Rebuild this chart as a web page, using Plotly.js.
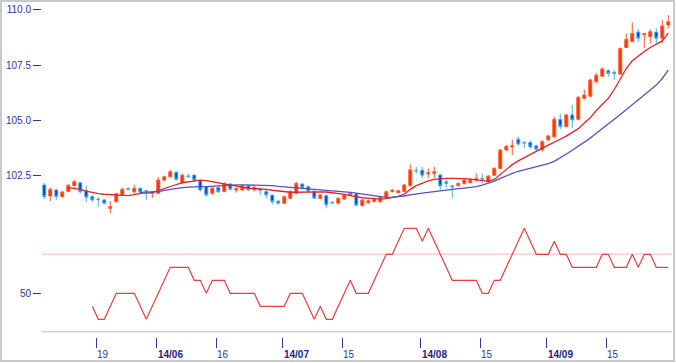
<!DOCTYPE html>
<html><head><meta charset="utf-8">
<script src="https://cdn.plot.ly/plotly-3.0.1.min.js"></script>
<style>
html,body{margin:0;padding:0;background:#fff;}
#wrap{position:relative;width:676px;height:363px;overflow:hidden;}
#chart{width:676px;height:363px;}
#frame{position:absolute;left:0;top:0;width:675px;height:362px;box-sizing:border-box;border:2px solid #cacaca;pointer-events:none;}
</style></head><body>
<div id="wrap"><div id="chart"></div><div id="frame"></div></div>
<script>
// Trading days (categories)
const dates = [
'2014-05-06','2014-05-07','2014-05-08','2014-05-09','2014-05-12','2014-05-13','2014-05-14','2014-05-15','2014-05-16',
'2014-05-19','2014-05-20','2014-05-21','2014-05-22','2014-05-23','2014-05-26','2014-05-27','2014-05-28','2014-05-29','2014-05-30',
'2014-06-02','2014-06-03','2014-06-04','2014-06-05','2014-06-06','2014-06-09','2014-06-10','2014-06-11','2014-06-12','2014-06-13',
'2014-06-16','2014-06-17','2014-06-18','2014-06-19','2014-06-20','2014-06-23','2014-06-24','2014-06-25','2014-06-26','2014-06-27','2014-06-30',
'2014-07-01','2014-07-02','2014-07-03','2014-07-04','2014-07-07','2014-07-08','2014-07-09','2014-07-10','2014-07-11',
'2014-07-14','2014-07-15','2014-07-16','2014-07-17','2014-07-18','2014-07-21','2014-07-22','2014-07-23','2014-07-24','2014-07-25',
'2014-07-28','2014-07-29','2014-07-30','2014-07-31',
'2014-08-01','2014-08-04','2014-08-05','2014-08-06','2014-08-07','2014-08-08','2014-08-11','2014-08-12','2014-08-13','2014-08-14','2014-08-15',
'2014-08-18','2014-08-19','2014-08-20','2014-08-21','2014-08-22','2014-08-25','2014-08-26','2014-08-27','2014-08-28','2014-08-29',
'2014-09-01','2014-09-02','2014-09-03','2014-09-04','2014-09-05','2014-09-08','2014-09-09','2014-09-10','2014-09-11','2014-09-12',
'2014-09-15','2014-09-16','2014-09-17','2014-09-18','2014-09-19','2014-09-22','2014-09-23','2014-09-24','2014-09-25','2014-09-26',
'2014-09-29'];

const open = [102.08,101.58,101.85,101.55,101.79,102.05,102.18,101.82,101.55,101.44,101.40,101.02,101.32,101.63,101.91,101.77,101.93,101.82,101.70,101.70,
102.30,102.45,102.65,102.20,102.49,102.53,102.27,102.00,101.70,101.97,101.78,102.12,101.85,101.85,102.04,101.86,101.90,101.78,101.62,101.35,
101.25,101.48,101.70,102.12,102.00,101.80,101.48,101.60,101.30,101.25,101.44,101.62,101.68,101.15,101.28,101.33,101.32,101.52,101.78,101.73,
101.78,102.05,102.74,102.75,102.58,102.60,102.53,102.22,102.04,102.05,102.15,102.18,102.30,102.38,102.22,102.52,102.83,103.67,103.80,104.15,
104.00,104.00,103.85,103.67,104.12,104.26,105.05,104.72,105.25,105.05,106.00,106.10,106.75,107.00,107.25,107.18,107.10,108.30,108.57,109.00,
108.88,108.80,109.00,108.72,109.32];
const high = [102.17,101.96,101.91,101.80,102.12,102.31,102.20,102.06,101.62,101.55,101.45,101.35,101.72,101.96,101.98,102.09,101.97,101.84,101.80,102.43,
102.50,102.75,102.70,102.60,102.60,102.55,102.30,102.03,102.00,101.99,102.20,102.17,101.96,102.10,102.08,102.02,101.96,101.85,101.63,101.38,
101.60,101.85,102.22,102.17,102.05,101.83,101.66,101.65,101.33,101.50,101.68,101.78,101.72,101.43,101.43,101.50,101.56,101.82,101.90,101.86,
102.12,103.01,102.90,102.90,102.83,102.90,102.60,102.38,102.08,102.18,102.35,102.38,102.60,102.60,102.52,102.88,103.70,103.90,104.14,104.26,
104.08,104.10,103.90,104.10,104.35,105.17,105.30,105.30,105.70,106.10,106.40,106.88,107.15,107.40,107.33,107.28,108.30,108.94,109.43,109.15,
108.94,109.12,109.17,109.55,109.77];
const low = [101.44,101.35,101.40,101.50,101.76,101.97,101.70,101.30,101.31,101.10,101.20,100.80,101.30,101.60,101.83,101.65,101.70,101.40,101.48,101.68,
102.23,102.42,102.28,102.12,102.40,102.20,101.78,101.55,101.63,101.72,101.75,101.83,101.73,101.80,101.82,101.78,101.62,101.48,101.20,101.20,
101.22,101.42,101.68,101.88,101.75,101.45,101.43,101.02,101.22,101.20,101.40,101.58,101.12,101.10,101.22,101.30,101.28,101.48,101.74,101.70,
101.75,102.00,102.60,102.38,102.38,102.38,101.85,101.93,101.48,102.00,102.10,102.15,102.22,102.15,102.20,102.48,102.80,103.60,103.43,103.86,
103.74,103.72,103.60,103.60,104.08,104.20,104.60,104.70,104.64,105.00,105.93,106.05,106.70,106.97,106.97,106.83,107.05,108.28,108.55,108.55,
108.27,108.49,108.49,108.49,109.17];
const close = [101.55,101.88,101.55,101.76,102.06,102.23,101.77,101.52,101.40,101.42,101.25,101.10,101.68,101.88,101.88,101.93,101.75,101.78,101.77,102.30,
102.45,102.68,102.33,102.52,102.46,102.30,101.85,101.62,101.93,101.77,102.12,101.88,101.92,102.05,101.86,101.96,101.83,101.63,101.32,101.25,
101.55,101.78,102.15,101.95,101.80,101.48,101.62,101.18,101.27,101.48,101.64,101.70,101.16,101.40,101.36,101.47,101.52,101.77,101.84,101.82,
102.08,102.76,102.72,102.52,102.63,102.68,102.03,102.15,102.00,102.15,102.30,102.33,102.36,102.34,102.48,102.83,103.66,103.82,103.85,103.93,
103.98,103.80,103.70,104.05,104.30,105.05,104.72,105.25,105.02,106.05,106.15,106.83,107.05,107.33,107.13,107.13,108.26,108.67,108.94,108.72,
108.93,109.02,108.72,109.28,109.47];

// Short moving average (red), starts at day index 4
const maShortStart = 4;
const maShort = [101.96,101.92,101.88,101.80,101.73,101.69,101.66,101.65,101.65,101.63,101.60,101.64,101.70,101.71,101.73,101.82,
101.92,102.02,102.10,102.18,102.23,102.27,102.30,102.28,102.23,102.18,102.12,102.06,102.00,101.97,101.93,101.92,
101.91,101.88,101.84,101.80,101.77,101.75,101.75,101.76,101.76,101.77,101.77,101.76,101.73,101.69,101.65,101.60,
101.54,101.50,101.48,101.46,101.44,101.46,101.50,101.56,101.66,101.88,102.05,102.16,102.26,102.33,102.37,102.38,
102.38,102.38,102.37,102.34,102.30,102.26,102.24,102.33,102.55,102.80,103.00,103.17,103.32,103.48,103.62,103.75,
103.88,104.03,104.15,104.29,104.45,104.63,104.88,105.12,105.45,105.75,106.00,106.40,106.90,107.35,107.70,107.92,
108.12,108.30,108.45,108.60,108.95];
// Long moving average (blue), starts at day index 16
const maLongStart = 16;
const maLong = [101.74,101.75,101.76,101.78,101.83,101.88,101.92,101.96,101.98,102.00,102.00,102.00,102.02,102.03,102.05,102.06,
102.08,102.08,102.08,102.08,102.07,102.06,102.05,102.02,102.00,101.97,101.94,101.92,101.90,101.87,101.85,101.83,
101.81,101.79,101.77,101.74,101.70,101.66,101.62,101.58,101.54,101.52,101.53,101.55,101.58,101.63,101.68,101.71,
101.74,101.78,101.81,101.84,101.87,101.91,101.94,101.97,102.00,102.07,102.15,102.25,102.38,102.50,102.60,102.70,
102.77,102.83,102.90,102.97,103.05,103.15,103.30,103.48,103.65,103.82,104.02,104.20,104.42,104.62,104.85,105.05,
105.27,105.50,105.72,105.93,106.15,106.38,106.60,106.90,107.28];

// Psychological line (%), starts at day index 8
const psyStart = 8;
const psy = [41.67,33.33,33.33,41.67,50,50,50,50,41.67,33.33,41.67,50,58.33,66.67,66.67,66.67,66.67,58.33,58.33,50,
58.33,58.33,58.33,50,50,50,50,50,41.67,41.67,41.67,41.67,41.67,50,50,50,41.67,33.33,41.67,33.33,
33.33,41.67,50,58.33,50,50,50,58.33,66.67,75,75,83.33,91.67,91.67,91.67,83.33,91.67,83.33,75,66.67,
58.33,58.33,58.33,58.33,58.33,50,50,58.33,58.33,66.67,75,83.33,91.67,83.33,75,75,75,83.33,75,75,
66.67,66.67,66.67,66.67,66.67,75,75,66.67,66.67,66.67,75,66.67,75,75,66.67,66.67,66.67];

// Axis tick labels
const dayTickDates = ['2014-05-19','2014-06-16','2014-07-15','2014-08-15','2014-09-15'];
const dayTickText = ['19','16','15','15','15'];
const monthTickDates = ['2014-06-02','2014-07-01','2014-08-01','2014-09-01'];
const monthTickText = ['14/06','14/07','14/08','14/09'];
const priceTicks = [102.5,105,107.5,110];
const psyTicks = [50];

const idx = dates.map((d,i)=>i);
const pos = d => dates.indexOf(d) - 0.3;

const navy = '#333399';
const xr = [-0.38, 104.62];

const traces = [
  {type:'candlestick', x:idx, open:open, high:high, low:low, close:close, xaxis:'x', yaxis:'y',
   increasing:{line:{color:'#ff5a2a', width:1}, fillcolor:'#ff3300'},
   decreasing:{line:{color:'#4aaee8', width:1}, fillcolor:'#0a3ccc'},
   whiskerwidth:0, hoverinfo:'skip'},
  {type:'scatter', mode:'lines', x:idx.slice(maLongStart), y:maLong, xaxis:'x2', yaxis:'y',
   line:{color:'#5a50c0', width:1.3}, hoverinfo:'skip'},
  {type:'scatter', mode:'lines', x:idx.slice(maShortStart), y:maShort, xaxis:'x', yaxis:'y',
   line:{color:'#e0242a', width:1.3}, hoverinfo:'skip'},
  {type:'scatter', mode:'lines', x:idx.slice(psyStart), y:psy, xaxis:'x', yaxis:'y2',
   line:{color:'#e84040', width:1.2}, hoverinfo:'skip'}
];

const tickFont = {family:'Liberation Sans, Arial, sans-serif', size:10, color:navy};

const layout = {
  width:676, height:363,
  margin:{l:42, r:4, t:5, b:26, pad:0},
  paper_bgcolor:'#ffffff', plot_bgcolor:'rgba(0,0,0,0)',
  showlegend:false,
  font:{family:'Liberation Sans, Arial, sans-serif', size:10, color:navy},
  xaxis:{range:xr, anchor:'free', position:0, rangeslider:{visible:false},
    showgrid:false, zeroline:false, showline:false,
    ticks:'outside', ticklen:10, tickwidth:1, tickcolor:navy,
    tickvals:dayTickDates.map(pos), ticktext:dayTickText, ticklabelshift:6, ticklabelstandoff:-2,
    tickfont:tickFont},
  xaxis2:{range:xr, overlaying:'x', anchor:'free', position:0,
    showgrid:false, zeroline:false, showline:false,
    ticks:'outside', ticklen:10, tickwidth:1, tickcolor:navy,
    tickvals:monthTickDates.map(pos), ticktext:monthTickText, ticklabelshift:14, ticklabelstandoff:-2,
    tickfont:{family:'Liberation Sans, Arial, sans-serif', size:10, color:'#22228a', weight:'bold'}},
  yaxis:{domain:[0,1], range:[95.197,110.226], anchor:'x',
    showgrid:false, zeroline:false, showline:false,
    ticks:'outside', ticklen:8, tickwidth:1, tickcolor:navy,
    tickvals:priceTicks, tickformat:'.1f', tickfont:tickFont},
  yaxis2:{domain:[0.01416,0.3666], range:[25,100], anchor:'x',
    showgrid:false, zeroline:false, showline:false,
    ticks:'outside', ticklen:8, tickwidth:1, tickcolor:navy,
    tickvals:psyTicks, tickfont:tickFont},
  shapes:[
    {type:'line', layer:'below', xref:'paper', x0:0, x1:1, yref:'y2', y0:75, y1:75, line:{color:'#ffd3dd', width:2}},
    {type:'line', layer:'below', xref:'paper', x0:0, x1:1, yref:'y2', y0:25, y1:25, line:{color:'#b9c4cd', width:2}}
  ]
};

Plotly.newPlot('chart', traces, layout, {staticPlot:true, displayModeBar:false});
</script>
</body></html>
